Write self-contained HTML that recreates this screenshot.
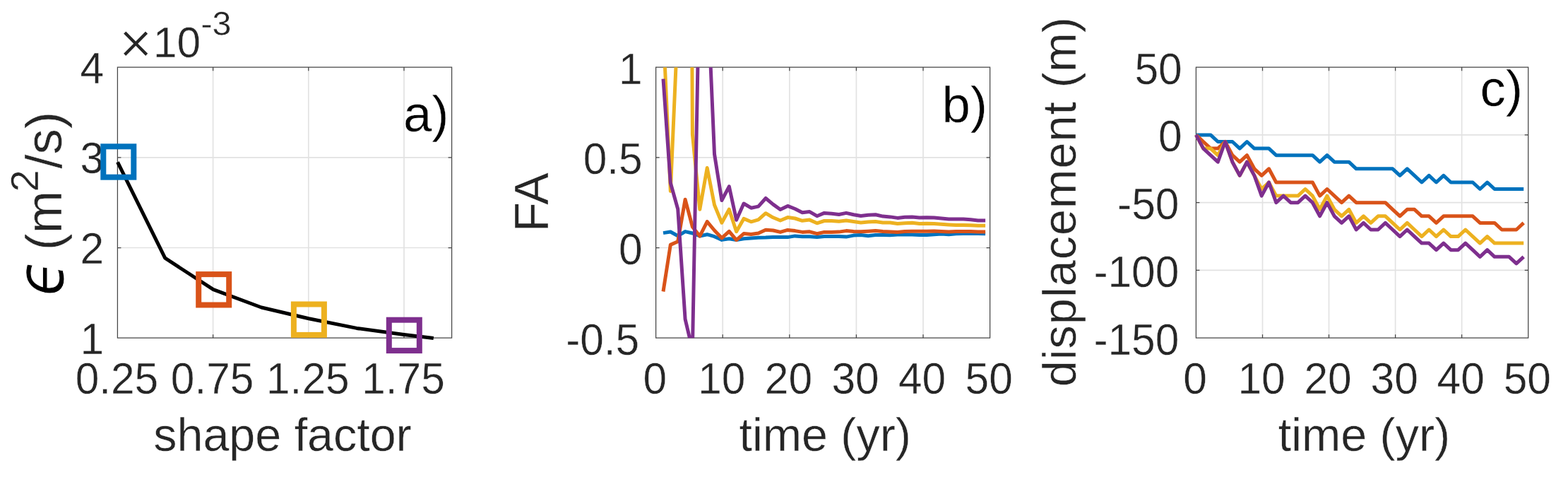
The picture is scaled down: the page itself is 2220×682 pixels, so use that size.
<!DOCTYPE html>
<html lang="en">
<head>
<meta charset="utf-8">
<title>Shape factor, FA and displacement</title>
<style>
html,body{margin:0;padding:0;background:#fff;}
body{width:2220px;height:682px;overflow:hidden;}
svg{display:block;filter:blur(0.5px);}
text{font-family:"Liberation Sans", sans-serif;fill:#262626;stroke:#fff;stroke-width:0.4;}
.grid{fill:none;stroke:#e2e2e2;stroke-width:1.7;}
.box{fill:none;stroke:#454545;stroke-width:1.25;stroke-linecap:butt;}
.ln{fill:none;stroke-linejoin:round;stroke-linecap:butt;}
.mk{fill:none;stroke-width:8;}
.pl{fill:#000;}
</style>
</head>
<body>
<svg width="2220" height="682" viewBox="0 0 2220 682">
<rect width="2220" height="682" fill="#fff"/>
<g id="panel-a">
<path class="grid" d="M301.6 95.2V478.2M436.8 95.2V478.2M572.0 95.2V478.2M166.4 222.9H639.6M166.4 350.5H639.6"/>
<path class="box" d="M166.4 95.2H639.6V478.2H166.4ZM166.4 478.2v-5M166.4 95.2v5M301.6 478.2v-5M301.6 95.2v5M436.8 478.2v-5M436.8 95.2v5M572.0 478.2v-5M572.0 95.2v5M166.4 95.2h5M639.6 95.2h-5M166.4 222.9h5M639.6 222.9h-5M166.4 350.5h5M639.6 350.5h-5M166.4 478.2h5M639.6 478.2h-5"/>
<text transform="translate(165.4 556.7) scale(1 1.04)" font-size="60.4" text-anchor="middle">0.25</text>
<text transform="translate(300.6 556.7) scale(1 1.04)" font-size="60.4" text-anchor="middle">0.75</text>
<text transform="translate(435.8 556.7) scale(1 1.04)" font-size="60.4" text-anchor="middle">1.25</text>
<text transform="translate(571.0 556.7) scale(1 1.04)" font-size="60.4" text-anchor="middle">1.75</text>
<text transform="translate(147.0 117.7) scale(1 1.04)" font-size="60.4" text-anchor="end">4</text>
<text transform="translate(147.0 245.4) scale(1 1.04)" font-size="60.4" text-anchor="end">3</text>
<text transform="translate(147.0 373.0) scale(1 1.04)" font-size="60.4" text-anchor="end">2</text>
<text transform="translate(147.0 500.7) scale(1 1.04)" font-size="60.4" text-anchor="end">1</text>
<path class="ln" stroke="#000" stroke-width="5.0" d="M166.5 229.3L233.7 365.2L302.0 409.7L370.1 435.0L437.1 450.8L505.0 464.4L572.0 473.6L613.8 478.5"/>
<rect class="mk" stroke="#0072BD" x="146.3" y="207.3" width="43" height="43.4"/>
<rect class="mk" stroke="#D95319" x="281.2" y="388.1" width="43" height="43.4"/>
<rect class="mk" stroke="#EDB120" x="415.9" y="430.5" width="43" height="43.4"/>
<rect class="mk" stroke="#7E2F8E" x="550.8" y="452.7" width="43" height="43.4"/>
<text x="168.4" y="89.0" font-size="81" style="stroke-width:1.4">×</text>
<text x="217.0" y="81" font-size="60.4">10</text>
<text x="284.5" y="50.3" font-size="48.3">-3</text>
<text x="400.0" y="637.5" font-size="66.4" text-anchor="middle">shape factor</text>
<text class="pl" x="635.4" y="185.6" font-size="72.5" text-anchor="end">a)</text>
<text class="pl" transform="translate(90 419) rotate(-90) scale(0.9 1)" font-size="94" font-style="italic" style="font-family:'DejaVu Sans',sans-serif;stroke-width:1">ϵ</text>
<text transform="translate(86.5 354.3) rotate(-90)" font-size="72.5">(m</text>
<text transform="translate(53.6 271.5) rotate(-90)" font-size="56">2</text>
<text transform="translate(86.5 238.7) rotate(-90)" font-size="72.5">/s)</text>
</g>
<g id="panel-b">
<clipPath id="cb"><rect x="928.6" y="95.2" width="473.0" height="383.0"/></clipPath>
<path class="grid" d="M1023.2 95.2V478.2M1117.8 95.2V478.2M1212.4 95.2V478.2M1307.0 95.2V478.2M928.6 222.9H1401.6M928.6 350.5H1401.6"/>
<path class="box" d="M928.6 95.2H1401.6V478.2H928.6ZM928.6 478.2v-5M928.6 95.2v5M1023.2 478.2v-5M1023.2 95.2v5M1117.8 478.2v-5M1117.8 95.2v5M1212.4 478.2v-5M1212.4 95.2v5M1307.0 478.2v-5M1307.0 95.2v5M1401.6 478.2v-5M1401.6 95.2v5M928.6 95.2h5M1401.6 95.2h-5M928.6 222.9h5M1401.6 222.9h-5M928.6 350.5h5M1401.6 350.5h-5M928.6 478.2h5M1401.6 478.2h-5"/>
<g clip-path="url(#cb)">
<path class="ln" stroke="#0072BD" stroke-width="5.0" d="M939.0 329.6L949.3 328.0L959.7 333.8L970.1 327.6L980.4 330.0L990.8 334.0L1001.2 331.7L1011.5 334.7L1021.9 339.4L1032.3 337.7L1042.6 339.5L1053.0 337.8L1063.4 336.9L1073.7 336.2L1084.1 336.0L1094.5 335.4L1104.8 335.4L1115.2 335.6L1125.6 333.9L1135.9 334.8L1146.3 334.8L1156.7 335.4L1167.0 334.6L1177.4 334.4L1187.8 334.4L1198.1 335.1L1208.5 333.1L1218.8 332.5L1229.2 333.7L1239.6 332.5L1249.9 332.5L1260.3 332.7L1270.7 331.9L1281.0 331.9L1291.4 331.9L1301.8 332.5L1312.1 332.5L1322.5 331.8L1332.9 331.0L1343.2 331.8L1353.6 330.7L1364.0 330.4L1374.3 330.4L1384.7 330.4L1395.1 330.7"/>
<path class="ln" stroke="#D95319" stroke-width="5.0" d="M939.0 412.5L949.3 346.4L959.7 341.7L970.1 282.2L980.4 321.0L990.8 334.1L1001.2 313.6L1011.5 326.0L1021.9 336.8L1032.3 327.3L1042.6 339.7L1053.0 330.6L1063.4 331.5L1073.7 330.0L1084.1 325.2L1094.5 326.0L1104.8 328.4L1115.2 325.4L1125.6 326.6L1135.9 328.4L1146.3 327.8L1156.7 330.7L1167.0 328.4L1177.4 328.4L1187.8 328.1L1198.1 326.6L1208.5 327.4L1218.8 327.8L1229.2 327.2L1239.6 326.6L1249.9 327.6L1260.3 328.0L1270.7 328.4L1281.0 327.6L1291.4 327.2L1301.8 327.2L1312.1 327.2L1322.5 326.9L1332.9 327.5L1343.2 328.1L1353.6 327.5L1364.0 327.5L1374.3 327.5L1384.7 328.1L1395.1 328.1"/>
<path class="ln" stroke="#EDB120" stroke-width="5.0" d="M939.0 40.0L949.3 270.5L959.7 32.0L970.1 -1800.0L980.4 190.0L990.8 296.2L1001.2 237.5L1011.5 290.0L1021.9 315.2L1032.3 296.2L1042.6 327.7L1053.0 309.4L1063.4 313.8L1073.7 310.9L1084.1 301.7L1094.5 307.8L1104.8 312.0L1115.2 307.6L1125.6 309.0L1135.9 312.3L1146.3 311.1L1156.7 315.8L1167.0 312.5L1177.4 312.6L1187.8 313.3L1198.1 312.0L1208.5 313.5L1218.8 314.9L1229.2 314.1L1239.6 313.5L1249.9 314.9L1260.3 315.1L1270.7 316.4L1281.0 315.7L1291.4 315.2L1301.8 316.6L1312.1 316.3L1322.5 316.5L1332.9 317.3L1343.2 317.9L1353.6 318.5L1364.0 318.5L1374.3 318.7L1384.7 319.3L1395.1 319.3"/>
<path class="ln" stroke="#7E2F8E" stroke-width="5.0" d="M939.0 111.7L949.3 258.8L959.7 295.7L970.1 451.6L980.4 495.0L990.8 -60.0L1001.2 -21.0L1011.5 218.0L1021.9 283.5L1032.3 263.8L1042.6 311.2L1053.0 288.0L1063.4 294.2L1073.7 292.1L1084.1 280.5L1094.5 289.1L1104.8 296.5L1115.2 291.4L1125.6 295.5L1135.9 300.8L1146.3 299.6L1156.7 305.7L1167.0 301.4L1177.4 302.2L1187.8 303.5L1198.1 301.4L1208.5 303.7L1218.8 305.5L1229.2 304.3L1239.6 303.7L1249.9 306.1L1260.3 306.9L1270.7 308.4L1281.0 307.3L1291.4 306.9L1301.8 308.1L1312.1 307.8L1322.5 308.0L1332.9 309.0L1343.2 309.9L1353.6 309.9L1364.0 310.1L1374.3 310.7L1384.7 311.9L1395.1 311.9"/>
</g>
<text transform="translate(927.2 556.7) scale(1 1.04)" font-size="60.4" text-anchor="middle">0</text>
<text transform="translate(1021.8 556.7) scale(1 1.04)" font-size="60.4" text-anchor="middle">10</text>
<text transform="translate(1116.4 556.7) scale(1 1.04)" font-size="60.4" text-anchor="middle">20</text>
<text transform="translate(1211.0 556.7) scale(1 1.04)" font-size="60.4" text-anchor="middle">30</text>
<text transform="translate(1305.6 556.7) scale(1 1.04)" font-size="60.4" text-anchor="middle">40</text>
<text transform="translate(1400.2 556.7) scale(1 1.04)" font-size="60.4" text-anchor="middle">50</text>
<text transform="translate(909.6 118.5) scale(1 1.04)" font-size="60.4" text-anchor="end">1</text>
<text transform="translate(909.6 246.2) scale(1 1.04)" font-size="60.4" text-anchor="end">0.5</text>
<text transform="translate(909.6 373.8) scale(1 1.04)" font-size="60.4" text-anchor="end">0</text>
<text transform="translate(905.2 501.5) scale(1 1.04)" font-size="60.4" text-anchor="end">-0.5</text>
<text x="1168.2" y="637.7" font-size="66.4" text-anchor="middle">time (yr)</text>
<text class="pl" x="1398" y="172.7" font-size="72.5" text-anchor="end">b)</text>
<text transform="translate(775.5 286.2) rotate(-90)" font-size="68.5" text-anchor="middle">FA</text>
</g>
<g id="panel-c">
<clipPath id="cc"><rect x="1693.4" y="95.2" width="470.3" height="383.0"/></clipPath>
<path class="grid" d="M1787.5 95.2V478.2M1881.5 95.2V478.2M1975.6 95.2V478.2M2069.6 95.2V478.2M1693.4 190.9H2163.7M1693.4 286.7H2163.7M1693.4 382.4H2163.7"/>
<path class="box" d="M1693.4 95.2H2163.7V478.2H1693.4ZM1693.4 478.2v-5M1693.4 95.2v5M1787.5 478.2v-5M1787.5 95.2v5M1881.5 478.2v-5M1881.5 95.2v5M1975.6 478.2v-5M1975.6 95.2v5M2069.6 478.2v-5M2069.6 95.2v5M2163.7 478.2v-5M2163.7 95.2v5M1693.4 95.2h5M2163.7 95.2h-5M1693.4 190.9h5M2163.7 190.9h-5M1693.4 286.7h5M2163.7 286.7h-5M1693.4 382.4h5M2163.7 382.4h-5M1693.4 478.2h5M2163.7 478.2h-5"/>
<g>
<path class="ln" stroke="#0072BD" stroke-width="5.0" d="M1693.4 190.9L1703.7 190.9L1714.0 190.9L1724.3 200.5L1734.6 200.5L1744.9 200.5L1755.2 210.1L1765.5 200.5L1775.9 210.1L1786.2 210.1L1796.5 210.1L1806.8 219.7L1817.1 219.7L1827.4 219.7L1837.7 219.7L1848.0 219.7L1858.3 219.7L1868.6 229.2L1878.9 219.7L1889.2 229.2L1899.5 229.2L1909.8 229.2L1920.2 238.8L1930.5 238.8L1940.8 238.8L1951.1 238.8L1961.4 238.8L1971.7 238.8L1982.0 248.4L1992.3 238.8L2002.6 248.4L2012.9 258.0L2023.2 248.4L2033.5 258.0L2043.8 248.4L2054.1 258.0L2064.5 258.0L2074.8 258.0L2085.1 258.0L2095.4 267.5L2105.7 258.0L2116.0 267.5L2126.3 267.5L2136.6 267.5L2146.9 267.5L2157.2 267.5"/>
<path class="ln" stroke="#D95319" stroke-width="5.0" d="M1693.4 190.9L1703.7 200.5L1714.0 210.1L1724.3 210.1L1734.6 200.5L1744.9 219.7L1755.2 229.2L1765.5 219.7L1775.9 238.8L1786.2 248.4L1796.5 238.8L1806.8 258.0L1817.1 258.0L1827.4 258.0L1837.7 258.0L1848.0 258.0L1858.3 258.0L1868.6 277.1L1878.9 267.5L1889.2 277.1L1899.5 286.7L1909.8 277.1L1920.2 286.7L1930.5 286.7L1940.8 286.7L1951.1 286.7L1961.4 286.7L1971.7 296.3L1982.0 305.8L1992.3 296.3L2002.6 296.3L2012.9 305.8L2023.2 305.8L2033.5 315.4L2043.8 305.8L2054.1 305.8L2064.5 305.8L2074.8 305.8L2085.1 305.8L2095.4 315.4L2105.7 315.4L2116.0 315.4L2126.3 325.0L2136.6 325.0L2146.9 325.0L2157.2 315.4"/>
<path class="ln" stroke="#EDB120" stroke-width="5.0" d="M1693.4 190.9L1703.7 210.1L1714.0 210.1L1724.3 219.7L1734.6 200.5L1744.9 229.2L1755.2 248.4L1765.5 229.2L1775.9 248.4L1786.2 267.5L1796.5 258.0L1806.8 277.1L1817.1 277.1L1827.4 277.1L1837.7 277.1L1848.0 267.5L1858.3 277.1L1868.6 296.3L1878.9 277.1L1889.2 296.3L1899.5 305.8L1909.8 296.3L1920.2 315.4L1930.5 305.8L1940.8 315.4L1951.1 305.8L1961.4 305.8L1971.7 315.4L1982.0 325.0L1992.3 315.4L2002.6 325.0L2012.9 334.6L2023.2 325.0L2033.5 334.6L2043.8 325.0L2054.1 334.6L2064.5 334.6L2074.8 325.0L2085.1 334.6L2095.4 344.1L2105.7 334.6L2116.0 344.1L2126.3 344.1L2136.6 344.1L2146.9 344.1L2157.2 344.1"/>
<path class="ln" stroke="#7E2F8E" stroke-width="5.0" d="M1693.4 190.9L1703.7 210.1L1714.0 219.7L1724.3 229.2L1734.6 200.5L1744.9 229.2L1755.2 248.4L1765.5 229.2L1775.9 248.4L1786.2 277.1L1796.5 258.0L1806.8 286.7L1817.1 277.1L1827.4 286.7L1837.7 286.7L1848.0 277.1L1858.3 286.7L1868.6 305.8L1878.9 286.7L1889.2 305.8L1899.5 315.4L1909.8 305.8L1920.2 325.0L1930.5 315.4L1940.8 325.0L1951.1 325.0L1961.4 315.4L1971.7 325.0L1982.0 334.6L1992.3 325.0L2002.6 334.6L2012.9 344.1L2023.2 344.1L2033.5 353.7L2043.8 344.1L2054.1 353.7L2064.5 353.7L2074.8 344.1L2085.1 353.7L2095.4 363.3L2105.7 353.7L2116.0 363.3L2126.3 363.3L2136.6 363.3L2146.9 372.9L2157.2 363.3"/>
</g>
<text transform="translate(1692.0 556.7) scale(1 1.04)" font-size="60.4" text-anchor="middle">0</text>
<text transform="translate(1786.1 556.7) scale(1 1.04)" font-size="60.4" text-anchor="middle">10</text>
<text transform="translate(1880.1 556.7) scale(1 1.04)" font-size="60.4" text-anchor="middle">20</text>
<text transform="translate(1974.2 556.7) scale(1 1.04)" font-size="60.4" text-anchor="middle">30</text>
<text transform="translate(2068.2 556.7) scale(1 1.04)" font-size="60.4" text-anchor="middle">40</text>
<text transform="translate(2162.3 556.7) scale(1 1.04)" font-size="60.4" text-anchor="middle">50</text>
<text transform="translate(1673.7 118.5) scale(1 1.04)" font-size="60.4" text-anchor="end">50</text>
<text transform="translate(1673.7 214.2) scale(1 1.04)" font-size="60.4" text-anchor="end">0</text>
<text transform="translate(1669.3 310.0) scale(1 1.04)" font-size="60.4" text-anchor="end">-50</text>
<text transform="translate(1669.3 405.8) scale(1 1.04)" font-size="60.4" text-anchor="end">-100</text>
<text transform="translate(1669.3 501.5) scale(1 1.04)" font-size="60.4" text-anchor="end">-150</text>
<text x="1931.4" y="637.7" font-size="66.4" text-anchor="middle">time (yr)</text>
<text class="pl" x="2155.8" y="150.1" font-size="72.5" text-anchor="end">c)</text>
<text transform="translate(1523.3 547.3) rotate(-90)" font-size="66.4"><tspan letter-spacing="1.1">displacement</tspan><tspan letter-spacing="0.3"> (m)</tspan></text>
</g>
</svg>
</body>
</html>
